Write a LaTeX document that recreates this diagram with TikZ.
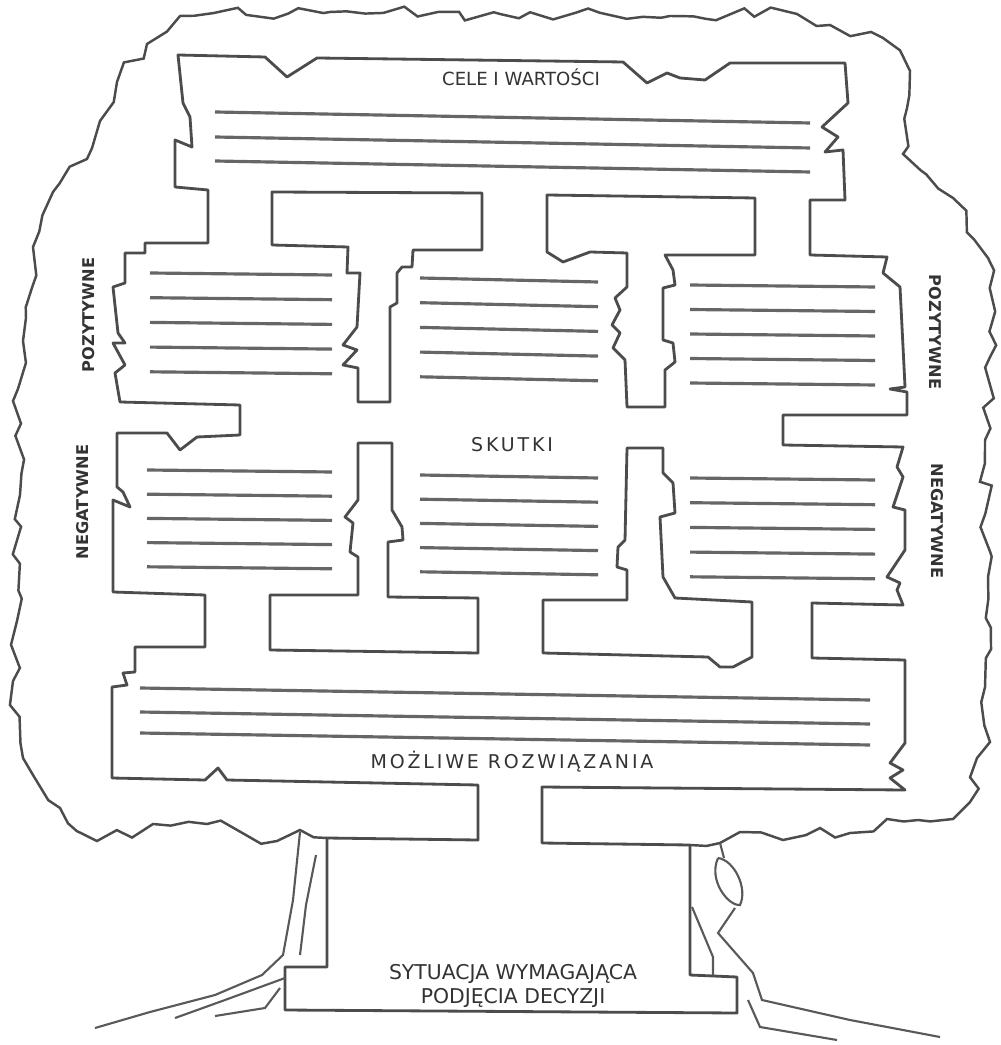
\documentclass[tikz,border=0pt]{standalone}
\usepackage{fontspec}
\newfontfamily\treefont{DejaVu Sans}
\newfontfamily\widefont[LetterSpace=15]{DejaVu Sans}
\usetikzlibrary{decorations.pathmorphing}

\begin{document}
\begin{tikzpicture}[x=0.1mm, y=-0.1mm,
    outline/.style={draw=black!70, line width=0.8pt, line join=round},
    textline/.style={draw=black!60, line width=0.9pt},
    bark/.style={draw=black!65, line width=0.6pt},
    canopy/.style={draw=black!70, line width=0.7pt, decorate,
      decoration={random steps, segment length=5pt, amplitude=2pt}},
    treetext/.style={font=\treefont\fontsize{5.8}{6.8}\selectfont, text=black!80, inner sep=0pt},
    sidetext/.style={font=\treefont\bfseries\fontsize{4.6}{5.5}\selectfont, text=black!80, inner sep=0pt}]
  \useasboundingbox (0,0) rectangle (1000,1045);
  \fill[white] (0,0) rectangle (1000,1045);
  \pgfmathsetseed{12}

  % korona drzewa
  \draw[canopy] (327,838) -- (300,830) -- (277,841) -- (207,824) -- (153,824) -- (97,841)
    -- (60,808) -- (33,775) -- (23,758) -- (13,681) -- (17,621) -- (20,495) -- (13,401)
    -- (23,341) -- (33,247) -- (53,192) -- (87,159) -- (100,121) -- (117,82) -- (147,44)
    -- (180,16) -- (330,12) -- (500,14) -- (670,16) -- (797,14) -- (830,25) -- (883,38)
    -- (910,71) -- (903,154) -- (953,198) -- (988,258) -- (990,357) -- (985,440)
    -- (988,577) -- (985,687) -- (990,742) -- (977,758) -- (970,802) -- (953,819)
    -- (887,819) -- (850,833) -- (820,828) -- (783,840) -- (740,832) -- (720,843) -- (690,845);

  % korytarze
  \draw[outline] (178,55) -- (265,57) -- (287,77) -- (317,58) -- (623,62) -- (647,83)
    -- (667,73) -- (680,78) -- (705,80) -- (730,63) -- (845,63) -- (848,103) -- (822,127)
    -- (838,137) -- (825,152) -- (843,150) -- (845,200) -- (810,200) -- (810,255)
    -- (887,257) -- (883,273) -- (900,287) -- (905,387) -- (890,389) -- (907,392)
    -- (907,415) -- (783,415) -- (783,445) -- (903,447) -- (897,467) -- (903,477)
    -- (893,507) -- (905,510) -- (905,550) -- (887,577) -- (900,583) -- (897,590)
    -- (903,605) -- (812,603) -- (812,658) -- (905,660) -- (905,743) -- (890,763)
    -- (903,770) -- (890,778) -- (905,790) -- (542,787) -- (542,843) -- (690,845)
    -- (690,975) -- (737,977) -- (737,1013) -- (285,1010) -- (285,967) -- (327,967)
    -- (327,838) -- (478,840) -- (478,785) -- (227,780) -- (218,768) -- (205,780)
    -- (112,778) -- (112,687) -- (127,685) -- (123,673) -- (135,672) -- (135,647)
    -- (205,647) -- (205,595) -- (113,592) -- (113,500) -- (130,507) -- (123,492)
    -- (117,487) -- (117,433) -- (167,433) -- (180,450) -- (197,437) -- (240,435)
    -- (240,405) -- (120,402) -- (115,373) -- (125,365) -- (113,343) -- (125,343)
    -- (118,333) -- (113,287) -- (125,283) -- (125,253) -- (145,253) -- (145,243)
    -- (208,243) -- (208,190) -- (175,187) -- (175,140) -- (192,147) -- (190,117)
    -- (183,103) -- cycle;

  % wyspy
  \draw[outline] (272,192) -- (482,193) -- (482,250) -- (413,250) -- (412,267) -- (402,267)
    -- (397,273) -- (397,303) -- (390,307) -- (390,402) -- (358,402) -- (358,368)
    -- (343,365) -- (357,350) -- (343,345) -- (357,327) -- (360,273) -- (347,273)
    -- (348,247) -- (272,245) -- cycle;
  \draw[outline] (547,195) -- (755,198) -- (755,255) -- (665,255) -- (673,270) -- (675,285)
    -- (663,288) -- (663,340) -- (673,343) -- (675,362) -- (665,370) -- (665,407)
    -- (627,407) -- (625,360) -- (613,348) -- (620,333) -- (612,325) -- (620,310)
    -- (615,298) -- (627,287) -- (627,253) -- (590,252) -- (563,262) -- (547,252) -- cycle;
  \draw[outline] (358,443) -- (392,443) -- (392,510) -- (402,527) -- (403,540) -- (388,542)
    -- (388,597) -- (478,598) -- (478,653) -- (270,650) -- (270,595) -- (358,595)
    -- (358,557) -- (350,552) -- (353,523) -- (345,517) -- (358,500) -- cycle;
  \draw[outline] (627,448) -- (663,448) -- (663,473) -- (673,483) -- (675,513) -- (660,517)
    -- (663,577) -- (675,598) -- (752,602) -- (752,657) -- (733,667) -- (720,667)
    -- (708,657) -- (543,653) -- (543,600) -- (627,600) -- (627,570) -- (617,567)
    -- (618,547) -- (625,540) -- cycle;

  % linie tekstu
  \foreach \y in {112,137,161} \draw[textline] (215,\y) -- ++(595,11);
  \foreach \n in {0,...,4} {
    \draw[textline] (150,{273+24.7*\n}) -- ++(182,2);
    \draw[textline] (420,{278+24.7*\n}) -- ++(178,4);
    \draw[textline] (690,{285+24.5*\n}) -- ++(185,2);
    \draw[textline] (147,{470+24.2*\n}) -- ++(185,2);
    \draw[textline] (420,{475+24.2*\n}) -- ++(178,3);
    \draw[textline] (690,{478+24.7*\n}) -- ++(185,2);
  }
  \foreach \y in {688,712,733} \draw[textline] (140,\y) -- ++(730,12);

  % kora i korzenie
  \draw[bark] (300,832) -- (293,900) -- (283,955) -- (262,975) -- (215,995) -- (150,1012) -- (95,1028);
  \draw[bark] (316,855) -- (306,905) -- (300,955);
  \draw[bark] (285,978) -- (225,1000) -- (175,1018);
  \draw[bark] (280,988) -- (265,1008) -- (215,1016);
  \draw[bark] (720,843) -- (724,858);
  \draw[bark] (718,858) .. controls (708,880) and (728,906) .. (740,905) .. controls (748,888) and (734,860) .. (718,858);
  \draw[bark] (735,908) -- (718,933) -- (753,973) -- (762,1000) -- (850,1020) -- (940,1037);
  \draw[bark] (692,907) -- (713,957) -- (713,975);
  \draw[bark] (748,1000) -- (760,1027) -- (837,1040);

  % napisy
  \node[treetext, font=\treefont\fontsize{5.15}{6}\selectfont] (cele) at (521,77) {CELE I WARTOŚCI};
  \node[treetext, font=\widefont\fontsize{5.4}{6}\selectfont] (skutki) at (512,445) {SKUTKI};
  \node[treetext, font=\widefont\fontsize{5.4}{6}\selectfont] (rozwiazania) at (512,762) {MOŻLIWE ROZWIĄZANIA};
  \node[treetext, align=center] (sytuacja) at (513,986) {SYTUACJA WYMAGAJĄCA\\PODJĘCIA DECYZJI};
  \node[sidetext, rotate=90] (pozlewe) at (89,315) {POZYTYWNE};
  \node[sidetext, rotate=90] (neglewe) at (83,502) {NEGATYWNE};
  \node[sidetext, rotate=-90] (pozprawe) at (935,332) {POZYTYWNE};
  \node[sidetext, rotate=-90] (negprawe) at (937,521) {NEGATYWNE};
\end{tikzpicture}
\end{document}
